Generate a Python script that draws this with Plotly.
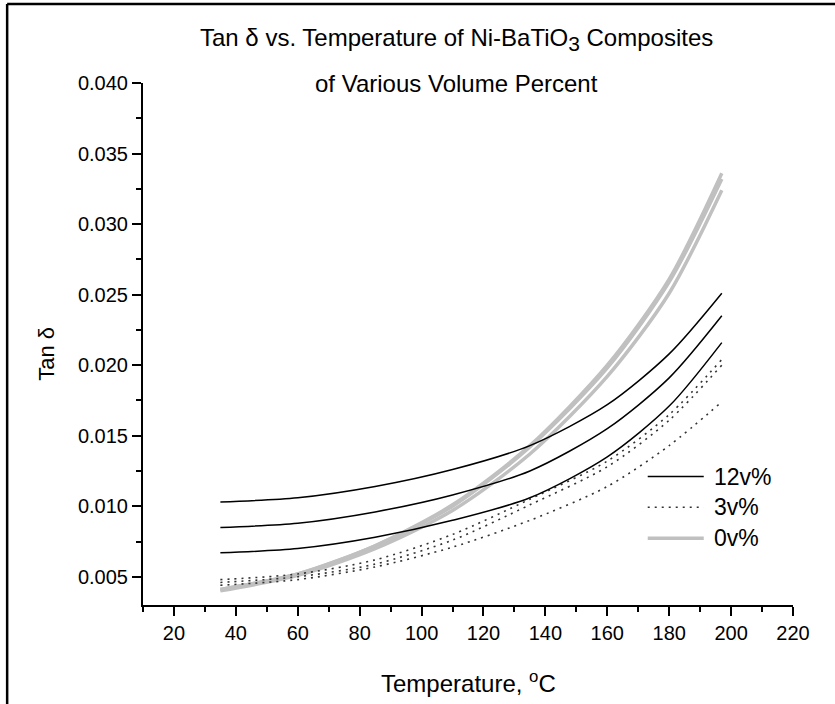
import plotly.graph_objects as go

# Temperature grid (°C) at which each curve was sampled
temp = [35, 60, 85, 110, 135, 160, 180, 197]

# Tan δ, 12 vol% Ni (three samples)
tan_12_a = [0.0103, 0.0106, 0.0114, 0.0126, 0.0143, 0.0172, 0.0208, 0.0251]
tan_12_b = [0.0085, 0.0088, 0.0096, 0.0108, 0.0125, 0.0155, 0.0191, 0.0235]
tan_12_c = [0.0067, 0.0070, 0.0078, 0.0090, 0.0106, 0.0135, 0.0171, 0.0216]

# Tan δ, 3 vol% Ni (three samples)
tan_3_a = [0.0048, 0.0052, 0.0062, 0.0080, 0.0105, 0.0132, 0.0165, 0.0204]
tan_3_b = [0.0046, 0.0050, 0.0059, 0.0076, 0.0101, 0.0128, 0.0161, 0.0200]
tan_3_c = [0.0044, 0.0048, 0.0057, 0.0071, 0.0090, 0.0114, 0.0143, 0.0174]

# Tan δ, 0 vol% Ni (three samples)
tan_0_a = [0.0041, 0.0052, 0.0072, 0.0101, 0.0143, 0.0200, 0.0261, 0.0336]
tan_0_b = [0.0041, 0.0052, 0.0072, 0.0100, 0.0142, 0.0198, 0.0259, 0.0332]
tan_0_c = [0.0040, 0.0051, 0.0070, 0.0097, 0.0137, 0.0192, 0.0251, 0.0324]

x_ticks = [20, 40, 60, 80, 100, 120, 140, 160, 180, 200, 220]
y_ticks = [0.005, 0.010, 0.015, 0.020, 0.025, 0.030, 0.035, 0.040]

legend_labels = ["12v%", "3v%", "0v%"]

FONT = "Arial, Liberation Sans, sans-serif"
styles = {
    "12v%": dict(color="black", width=1.5),
    "3v%": dict(color="#333333", width=1.6, dash="2px,5px"),
    "0v%": dict(color="#c0c0c0", width=3.5),
}

groups = [
    ("0v%", [tan_0_c, tan_0_b, tan_0_a]),
    ("3v%", [tan_3_a, tan_3_b, tan_3_c]),
    ("12v%", [tan_12_a, tan_12_b, tan_12_c]),
]

fig = go.Figure()
for name, series in groups:
    for ys in series:
        fig.add_trace(go.Scatter(
            x=temp, y=ys, mode="lines", name=name, showlegend=False,
            line=dict(shape="spline", smoothing=0.8, **styles[name]),
            hoverinfo="skip",
        ))

# Hand-drawn legend block (sample line + label for each group)
leg_y = [0.246, 0.1873, 0.1279]
for label, yy in zip(legend_labels, leg_y):
    st = styles[label]
    fig.add_shape(type="line", xref="paper", yref="paper",
                  x0=0.7765, x1=0.8627, y0=yy, y1=yy,
                  line=dict(color=st["color"], width=st["width"],
                            dash=st.get("dash", "solid")))
    fig.add_annotation(xref="paper", yref="paper", x=0.876, y=yy,
                       text=label, showarrow=False, xanchor="left",
                       yanchor="middle", font=dict(family=FONT, size=23, color="black"))

# Title lines
fig.add_annotation(xref="paper", yref="paper", x=0.483, y=1.0824,
                   text="Tan δ vs. Temperature of Ni-BaTiO"
                        "<sub><span style='font-size:21px'>3</span></sub> Composites",
                   showarrow=False, xanchor="center", yanchor="middle",
                   font=dict(family=FONT, size=24, color="black"))
fig.add_annotation(xref="paper", yref="paper", x=0.483, y=1.0,
                   text="of Various Volume Percent",
                   showarrow=False, xanchor="center", yanchor="middle",
                   font=dict(family=FONT, size=24, color="black"))

# Axis titles
fig.add_annotation(xref="paper", yref="paper", x=0.5, y=-0.147,
                   text="Temperature, <sup>o</sup>C", showarrow=False,
                   xanchor="center", yanchor="middle",
                   font=dict(family=FONT, size=24, color="black"))
fig.add_annotation(xref="paper", yref="paper", x=-0.148, y=0.481,
                   text="Tan δ", showarrow=False, textangle=-90,
                   xanchor="center", yanchor="middle",
                   font=dict(family=FONT, size=22, color="black"))

# Outer frame (top and left edges)
fig.add_shape(type="line", xref="paper", yref="paper",
              x0=-0.209, x1=1.5, y0=1.1513, y1=1.1513,
              line=dict(color="black", width=2.5))
fig.add_shape(type="line", xref="paper", yref="paper",
              x0=-0.209, x1=-0.209, y0=-0.5, y1=1.1513,
              line=dict(color="black", width=2.5))

axis_common = dict(
    showgrid=False, zeroline=False, showline=True, linecolor="black",
    linewidth=2, ticks="outside", ticklen=9, tickwidth=2, tickcolor="black",
    tickfont=dict(family=FONT, size=20, color="black"),
)
fig.update_xaxes(range=[10, 220], tickvals=x_ticks,
                 minor=dict(dtick=10, tick0=10, ticks="outside", ticklen=5,
                            tickwidth=2, tickcolor="black"),
                 **axis_common)
fig.update_yaxes(range=[0.003, 0.040], tickvals=y_ticks, tickformat=".3f",
                 minor=dict(dtick=0.0025, tick0=0, ticks="outside", ticklen=5,
                            tickwidth=2, tickcolor="black"),
                 **axis_common)

fig.update_layout(
    width=835, height=704,
    margin=dict(l=143, r=42, t=83, b=99),
    paper_bgcolor="white", plot_bgcolor="white",
    showlegend=False,
)

fig.write_html("out.html")
